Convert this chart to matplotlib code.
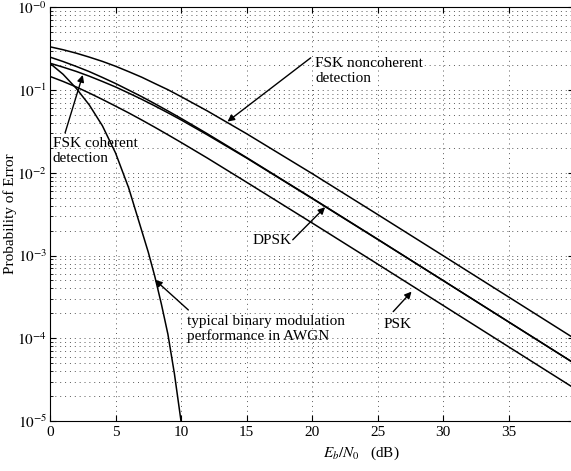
import matplotlib
matplotlib.use('Agg')
import matplotlib.pyplot as plt
import numpy as np

plt.rcParams['font.family'] = ['Liberation Serif', 'DejaVu Serif']
plt.rcParams['mathtext.fontset'] = 'stix'
plt.rcParams['font.size'] = 11

# Eb/N0 in dB
snr_db = [0, 1, 2, 3, 4, 5, 6, 7, 8, 9, 10, 12, 15, 20, 25, 30, 35, 40]

fsk_noncoh = [0.333, 0.307, 0.279, 0.250, 0.222, 0.194, 0.167, 0.143, 0.120, 0.101,
              0.0833, 0.056, 0.0297, 0.0098, 0.00314, 0.000998, 0.000316, 0.000100]
dpsk = [0.250, 0.221, 0.193, 0.167, 0.142, 0.120, 0.100, 0.0832, 0.0684, 0.0559,
        0.0455, 0.0297, 0.0153, 0.00495, 0.00158, 0.000500, 0.000158, 0.0000500]
fsk_coh = [0.211, 0.189, 0.168, 0.147, 0.127, 0.109, 0.092, 0.0773, 0.0643, 0.0531,
           0.0436, 0.0288, 0.0151, 0.00490, 0.00157, 0.000499, 0.000158, 0.0000500]
psk = [0.146, 0.127, 0.109, 0.092, 0.077, 0.064, 0.053, 0.0435, 0.0355, 0.0288,
       0.0233, 0.0151, 0.0077, 0.00248, 0.00079, 0.00025, 0.000079, 0.000025]

# steep AWGN curve
awgn_db = [0, 1, 2, 3, 4, 5, 6, 7, 7.5, 8, 8.5, 9, 9.5, 10]
awgn = [0.21, 0.155, 0.105, 0.066, 0.037, 0.0174, 0.0066, 0.0020, 0.0011,
        0.00056, 0.00026, 0.000112, 0.000037, 0.0000100]

fig = plt.figure(figsize=(5.71, 4.71), dpi=100)
ax = fig.add_axes([50 / 571, 50 / 471, 524 / 571, 413.7 / 471])

for y in [fsk_noncoh, dpsk, fsk_coh, psk]:
    ax.plot(snr_db, y, color='black', lw=1.1)
ax.plot(awgn_db, awgn, color='black', lw=1.1)

ax.set_yscale('log')
ax.set_xlim(0, 40)
ax.set_ylim(1e-5, 1)
ax.set_xticks([0, 5, 10, 15, 20, 25, 30, 35])
ax.set_yticks([1e0, 1e-1, 1e-2, 1e-3, 1e-4, 1e-5])
ax.set_yticklabels([r'$10^{-0}$', r'$10^{-1}$', r'$10^{-2}$', r'$10^{-3}$', r'$10^{-4}$', r'$10^{-5}$'])
ax.tick_params(which='major', direction='in', length=4, top=True, right=True, labelsize=11)
ax.tick_params(axis='y', which='major', pad=2)
ax.tick_params(which='minor', direction='in', length=2, left=True, right=True)
ax.tick_params(axis='x', which='minor', bottom=False, top=False)

ax.grid(which='major', axis='x', color='0.35', linestyle=(0, (1, 4)), lw=0.7)
ax.grid(which='both', axis='y', color='0.35', linestyle=(0, (1, 4)), lw=0.7)

ax.set_xlabel(r'$E_b/N_0$' + '   (dB)')
ax.xaxis.label.set_va('center')
ax.xaxis.set_label_coords(0.5935, -0.077)
ax.set_ylabel('Probability of Error')
ax.yaxis.label.set_va('center')
ax.yaxis.set_label_coords(-0.076, 0.5)

arrow = dict(arrowstyle='-|>', color='black', lw=1.0, mutation_scale=10, shrinkA=0, shrinkB=0)
ax.annotate('', xy=(13.55, 0.0416), xytext=(19.9, 0.245), arrowprops=arrow)
ax.text(20.25, 0.17, 'FSK noncoherent\ndetection', ha='left', va='center', linespacing=1.15)

ax.annotate('', xy=(2.5, 0.152), xytext=(1.15, 0.0303), arrowprops=arrow)
ax.text(0.2, 0.0184, 'FSK coherent\ndetection', ha='left', va='center', linespacing=1.15)

ax.annotate('', xy=(21.0, 0.00384), xytext=(18.53, 10 ** -2.81), arrowprops=arrow)
ax.text(16.95, 0.00151, 'DPSK', ha='center', va='center')

ax.annotate('', xy=(27.6, 0.000366), xytext=(26.2, 0.00021), arrowprops=arrow)
ax.text(26.5, 10 ** -3.83, 'PSK', ha='center', va='center')

ax.annotate('', xy=(8.02, 10 ** -3.295), xytext=(10.56, 10 ** -3.658), arrowprops=arrow)
ax.text(10.43, 10 ** -3.888, 'typical binary modulation\nperformance in AWGN',
        ha='left', va='center', linespacing=1.15)

fig.savefig('out.png', dpi=100)
